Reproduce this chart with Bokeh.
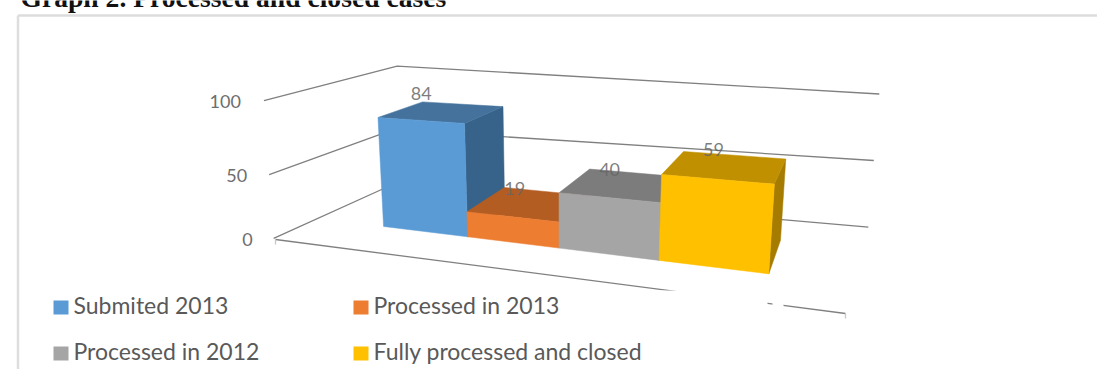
import numpy as np
from bokeh.core.properties import value
from bokeh.embed import file_html
from bokeh.plotting import figure
from bokeh.resources import INLINE

# Chart content
title_text = "Graph 2. Processed and closed cases"
categories = ["Submited 2013", "Processed in 2013", "Processed in 2012", "Fully processed and closed"]
case_counts = [84, 19, 40, 59]
tick_values = [0, 50, 100]

# Face colours per bar
front_colors = ["#5b9bd5", "#ed7d31", "#a5a5a5", "#ffc000"]
top_colors = ["#44729c", "#b45d22", "#7c7c7c", "#c09000"]
side_colors = ["#37638a", "#a85620", "#737373", "#a67c00"]


def fit_plane(coords, pixels):
    """Homography from plane coordinates to canvas pixels."""
    rows, rhs = [], []
    for (s, t), (px, py) in zip(coords, pixels):
        rows.append([s, t, 1, 0, 0, 0, -px * s, -px * t])
        rhs.append(px)
        rows.append([0, 0, 0, s, t, 1, -py * s, -py * t])
        rhs.append(py)
    m = np.linalg.lstsq(np.array(rows, float), np.array(rhs, float), rcond=None)[0]
    return np.append(m, 1.0).reshape(3, 3)


def on_plane(h, s, t):
    q = h @ np.array([s, t, 1.0])
    return q[0] / q[2], q[1] / q[2]


# Chart box planes; heights are in value units / 100
LEFT_WALL = fit_plane(
    [(0, 0), (1, 0), (0, 0.5), (1, 0.5), (0, 1), (1, 1)],
    [(275, 239), (388, 187), (268, 172), (393, 125), (262, 101), (398, 68)],
)  # (depth, height)
BACK_WALL = fit_plane(
    [(0, 0), (1, 0), (0, 0.5), (1, 0.5), (0, 1), (1, 1)],
    [(388, 187), (868, 226), (393, 125), (873, 161), (398, 68), (879, 93)],
)  # (across, height)
FLOOR_FRONT = [(275, 239), (845, 313)]

# Bar camera: (bar edge index, value, depth 0 front..1 back) -> canvas pixel
bar_calibration = [
    (0, 0, 0), (0, 84, 0), (0, 84, 1), (1, 84, 0), (1, 84, 1), (1, 0, 0),
    (2, 0, 0), (2, 40, 0), (2, 40, 1), (3, 40, 0), (3, 40, 1),
    (3, 0, 0), (3, 59, 0), (3, 59, 1), (4, 59, 0), (4, 59, 1), (4, 0, 0), (4, 0, 1),
]
bar_calibration_px = [
    (381, 227), (375, 116), (422, 101), (465, 123), (506, 106), (467, 236),
    (561, 247), (560, 193), (595, 169), (661, 203), (661, 175),
    (660, 260), (661, 175), (688, 152), (772, 183), (788, 159), (768, 272), (784, 240),
]


def fit_camera(corners, pixels):
    rows, rhs = [], []
    for (u, val, w), (px, py) in zip(corners, pixels):
        h = val / 100
        rows.append([u, h, w, 1, 0, 0, 0, 0, -px * u, -px * h, -px * w])
        rhs.append(px)
        rows.append([0, 0, 0, 0, u, h, w, 1, -py * u, -py * h, -py * w])
        rhs.append(py)
    m = np.linalg.lstsq(np.array(rows, float), np.array(rhs, float), rcond=None)[0]
    return np.append(m, 1.0).reshape(3, 4)


BAR_CAMERA = fit_camera(bar_calibration, bar_calibration_px)


def project(u, val, w):
    q = BAR_CAMERA @ np.array([u, val / 100, w, 1.0])
    return q[0] / q[2], q[1] / q[2]


def poly(*pts):
    xy = [project(*pt) for pt in pts]
    return [a for a, _ in xy], [b for _, b in xy]


p = figure(
    width=1097, height=369, x_range=(0, 1097), y_range=(369, 0),
    output_backend="svg", toolbar_location=None, min_border=0,
    x_axis_type=None, y_axis_type=None, outline_line_color=None,
)
p.grid.visible = False
p.background_fill_color = "white"
p.border_fill_color = "white"

# Document caption running off the top of the page
p.text([20], [-3], text=[title_text], text_font=value("Liberation Serif"), text_font_style="bold",
       text_font_size="27.6px", text_color="#111111", text_baseline="alphabetic", text_align="left")

# Gridlines on the left wall and back wall
GRID = "#808080"
for t in tick_values:
    h = t / 100
    pts = [on_plane(LEFT_WALL, 0, h), on_plane(LEFT_WALL, 1, h), on_plane(BACK_WALL, 1, h)]
    p.line([a for a, _ in pts], [b for _, b in pts], line_color=GRID, line_width=1.3)
p.line([a for a, _ in FLOOR_FRONT], [b for _, b in FLOOR_FRONT], line_color=GRID, line_width=1.3)

# Small tick marks on the front floor corners
for fx, fy in FLOOR_FRONT:
    p.line([fx, fx], [fy, fy + 5], line_color="#c8c8c8", line_width=1.3)

# Tick labels beside the front end of each left-wall gridline
for t in tick_values:
    tx, ty = on_plane(LEFT_WALL, 0, t / 100)
    p.text([tx - 21 - 2 * t / 100], [ty + 1], text=[str(t)], text_font=value("Lato"), text_font_size="18px",
           text_color="#6e6e6e", text_align="right", text_baseline="middle")

# Bars are drawn left to right, so each one hides its neighbour's side face
label_shift = [(-21, -18), (-15, -15), (-13, -15), (-12, -17)]

for i, count in enumerate(case_counts):
    faces = [
        (side_colors[i], ((i + 1, 0, 0), (i + 1, 0, 1), (i + 1, count, 1), (i + 1, count, 0))),
        (top_colors[i], ((i, count, 0), (i + 1, count, 0), (i + 1, count, 1), (i, count, 1))),
        (front_colors[i], ((i, 0, 0), (i + 1, 0, 0), (i + 1, count, 0), (i, count, 0))),
    ]
    for color, corners in faces:
        xs, ys = poly(*corners)
        p.patch(xs, ys, fill_color=color, line_color=color, line_width=0.5)

for i, count in enumerate(case_counts):
    cx, cy = project(i + 0.5, count, 0.5)
    dx, dy = label_shift[i]
    p.text([cx + dx], [cy + dy], text=[str(count)], text_font=value("Lato"), text_font_size="18px",
           text_color="#666666", text_alpha=0.85, text_align="center", text_baseline="middle")

# White legend panel sits over the lower part of the floor
p.quad(left=[20], right=[767], top=[290], bottom=[369], fill_color="white", line_color=None)
p.quad(left=[772], right=[783], top=[295], bottom=[312], fill_color="white", line_color=None)

# Frame lines
p.line([17.5, 17.5], [15, 369], line_color="#dcdfdc", line_width=2.5)
p.line([17.5, 1097], [15, 15], line_color="#dcdcdc", line_width=2.5)

# Legend: two rows, two columns
col_x = [53, 353]
row_top = [300, 346]
for i, name in enumerate(categories):
    lx = col_x[i % 2]
    ly = row_top[i // 2]
    p.quad(left=[lx], right=[lx + 15], top=[ly], bottom=[ly + 14], fill_color=front_colors[i], line_color=None)
    p.text([lx + 20], [ly + 4], text=[name], text_font=value("Lato"), text_font_size="23px",
           text_color="#595959", text_align="left", text_baseline="middle")

open("out.html", "w").write(file_html(p, INLINE))
